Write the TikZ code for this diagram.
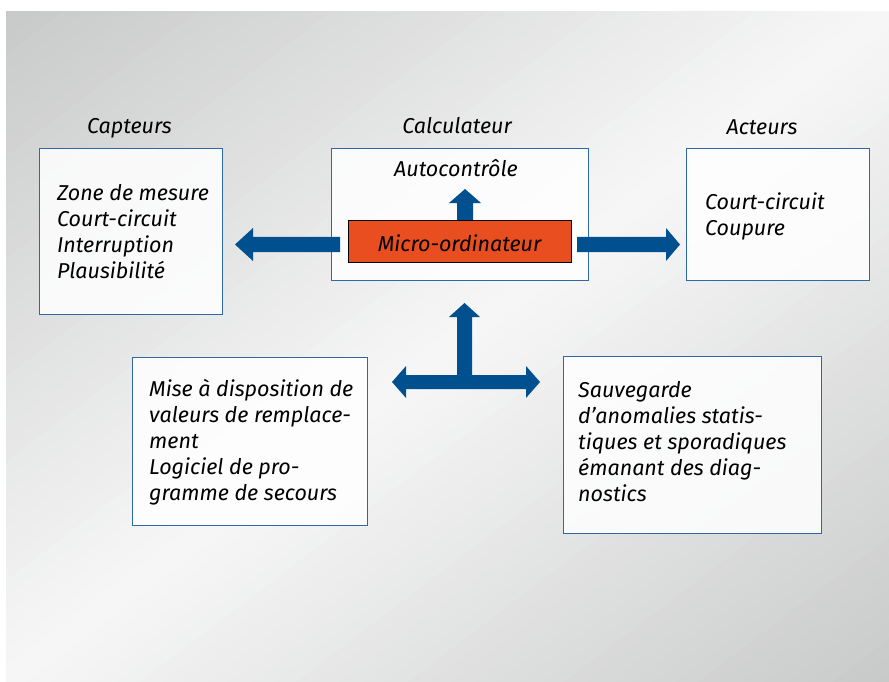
\documentclass[tikz,border=0pt]{standalone}
\usepackage{fontspec}
\setmainfont{Fira Sans}
\definecolor{bgdark}{HTML}{C8C9C9}
\definecolor{bglight}{HTML}{F7F7F7}
\begin{document}
\begin{tikzpicture}[x=1pt,y=-1pt,
  box/.style={draw=boxblue,line width=1.3pt,fill=white,fill opacity=0.85,text opacity=1,anchor=north west,inner sep=0pt},
  txt/.style={anchor=base west,align=left,inner sep=0pt,font=\fontsize{21.5}{26}\selectfont\itshape},
  lbl/.style={anchor=base,inner sep=0pt,font=\fontsize{21.5}{26}\selectfont\itshape},
  arr/.style={fill=arrblue,draw=none}]
\definecolor{boxblue}{HTML}{2F68A8}
\definecolor{arrblue}{HTML}{00508F}
\definecolor{microor}{HTML}{E84E1F}
\useasboundingbox (0,0) rectangle (889,682);
\fill[white] (0,0) rectangle (889,682);
% diagonal gradient background
\begin{scope}
  \clip (6,12) rectangle (889,682);
  \begin{scope}[shift={(447.5,347)},rotate=-52.8]
    \foreach \i in {0,...,79}{
      \pgfmathsetmacro{\ta}{-540+\i*13.5}
      \pgfmathsetmacro{\tb}{\ta+14}
      \pgfmathsetmacro{\pct}{min(100,abs(\ta+6.75)/534*100)}
      \fill[bgdark!\pct!bglight] (\ta,-900) rectangle (\tb,900);
    }
  \end{scope}
\end{scope}
% boxes
\node[box,minimum width=183pt,minimum height=166pt] (capt) at (39,148) {};
\node[box,minimum width=257pt,minimum height=132pt] (calc) at (331,148) {};
\node[box,minimum width=183pt,minimum height=132pt] (act) at (686,148) {};
\node[box,minimum width=235pt,minimum height=168pt] (bl) at (132,357) {};
\node[box,minimum width=258pt,minimum height=177pt] (br) at (563,356) {};
\node[draw=black,line width=1.3pt,fill=microor,anchor=north west,minimum width=223pt,minimum height=42pt,inner sep=0pt] (micro) at (348,220) {};
% labels
\node[lbl] (lcapt) at (129.5,134) {Capteurs};
\node[lbl] (lcalc) at (457,134) {Calculateur};
\node[lbl] (lact) at (762,135) {Acteurs};
\node[lbl] (auto) at (456,176) {Autocontrôle};
\node[lbl] (tmicro) at (459.5,251) {Micro-ordinateur};
% texts (anchor = baseline of last line)
\node[txt] (tcapt) at (57,278) {Zone de mesure\\Court-circuit\\Interruption\\Plausibilité};
\node[txt] (tact) at (705,235) {Court-circuit\\Coupure};
\node[txt] (tbl) at (149,500) {Mise à disposition de\\valeurs de remplace-\\ment\\Logiciel de pro-\\gramme de secours};
\node[txt] (tbr) at (578,501) {Sauvegarde\\d’anomalies statis-\\tiques et sporadiques\\émanant des diag-\\nostics};
% arrows
\fill[arr] (457,220) -- (457,203) -- (449,203) -- (465,189) -- (481,203) -- (473,203) -- (473,220) -- cycle;
\fill[arr] (340,236.8) -- (253,236.8) -- (253,228) -- (235,244.5) -- (253,261) -- (253,252.2) -- (340,252.2) -- cycle;
\fill[arr] (577,236.8) -- (666,236.8) -- (666,228) -- (680,244.5) -- (666,261) -- (666,252.2) -- (577,252.2) -- cycle;
\fill[arr] (457,375) -- (457,317) -- (449,317) -- (464.5,303) -- (480,317) -- (472,317) -- (472,375)
  -- (526,375) -- (526,366) -- (540,382) -- (526,398) -- (526,389)
  -- (406,389) -- (406,398) -- (392,382) -- (406,366) -- (406,375) -- cycle;
\end{tikzpicture}
\end{document}
